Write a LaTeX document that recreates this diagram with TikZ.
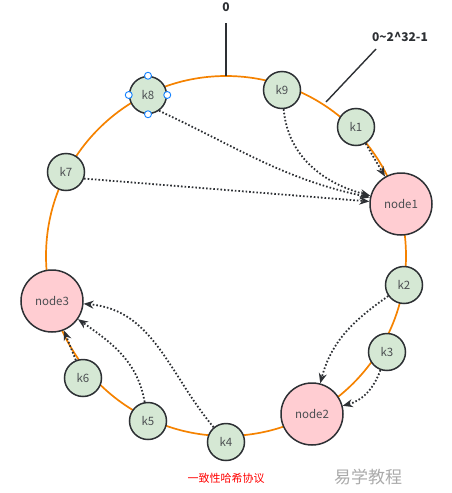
\documentclass[tikz,border=0pt]{standalone}
\usepackage{fontspec}
\setmainfont{Noto Sans CJK SC}
\usepackage{xcolor}
\usepackage{tikz}
\usetikzlibrary{arrows.meta}
\definecolor{ringorange}{RGB}{245, 130, 0}
\definecolor{keygreen}{RGB}{213, 232, 212}
\definecolor{serverpink}{RGB}{255, 205, 210}
\definecolor{edgegray}{RGB}{45, 48, 52}
\definecolor{handleblue}{RGB}{20, 130, 255}
\definecolor{marktext}{RGB}{170, 170, 170}

\begin{document}
\begin{tikzpicture}[
    x=1pt, y=-1pt,
    keyc/.style={circle, draw=edgegray, line width=1.5pt, fill=keygreen, minimum size=37pt, inner sep=0pt, text=edgegray!85, font=\fontsize{11.5}{13}\selectfont},
    srv/.style={circle, draw=edgegray, line width=1.5pt, fill=serverpink, minimum size=62pt, inner sep=0pt, text=edgegray!85, font=\fontsize{11.5}{13}\selectfont},
    hashlink/.style={edgegray, line width=1.8pt, dash pattern=on 1.6pt off 2pt, -{Stealth[length=10pt, width=8pt]}},
    handle/.style={circle, draw=handleblue, fill=white, line width=0.9pt, minimum size=7pt, inner sep=0pt}
]
\useasboundingbox (0,0) rectangle (451,493);

% Hash ring
\draw[ringorange, line width=1.7pt] (226,256) circle (180);

% Labels on the ring
\node[font=\bfseries\fontsize{12}{14}\selectfont, text=edgegray] (zero) at (226,7) {0};
\coordinate (zerofoot) at (226,23);
\coordinate (ringtop) at (226,76);
\draw[edgegray, line width=1.4pt] (zerofoot) -- (ringtop);
\node[font=\bfseries\fontsize{12}{14}\selectfont, text=edgegray] (range) at (400,37) {0\textasciitilde 2\textasciicircum 32-1};
\coordinate (rangefoot) at (376,49);
\coordinate (ringedge) at (326,102);
\draw[edgegray, line width=1.4pt] (rangefoot) -- (ringedge);

% Servers
\node[srv] (node1) at (401,204) {node1};
\node[srv] (node2) at (312,414) {node2};
\node[srv] (node3) at (52,301) {node3};

% Keys
\node[keyc] (k1) at (356,127) {k1};
\node[keyc] (k2) at (404,285) {k2};
\node[keyc] (k3) at (387,352) {k3};
\node[keyc] (k4) at (226,442) {k4};
\node[keyc] (k5) at (148,421) {k5};
\node[keyc] (k6) at (83,378) {k6};
\node[keyc] (k7) at (66,172) {k7};
\node[keyc] (k8) at (148,95) {k8};
\node[keyc] (k9) at (282,90) {k9};

% Selection handles on k8
\foreach \side in {north,south,east,west}
    \node[handle] (k8\side) at (k8.\side) {};

% Keys to servers
\draw[hashlink] (k1) -- (node1);
\draw[hashlink] (k9) to[out=-85, in=165] (node1);
\draw[hashlink] (k8.-55) to[out=-25, in=168] (node1);
\draw[hashlink] (k7.-20) -- (node1);
\draw[hashlink] (k2) to[out=215, in=75] (node2);
\draw[hashlink] (k3) to[out=-110, in=15] (node2);
\draw[hashlink] (k4) to[out=130, in=-5] (node3);
\draw[hashlink] (k5) to[out=100, in=-35] (node3);
\draw[hashlink] (k6) -- (node3);

% Captions
\node[text=red, font=\fontsize{11}{13}\selectfont] (caption) at (226,478) {一致性哈希协议};
\node[text=marktext, font=\fontsize{17}{19}\selectfont] (mark) at (368,477) {易学教程};
\end{tikzpicture}
\end{document}
